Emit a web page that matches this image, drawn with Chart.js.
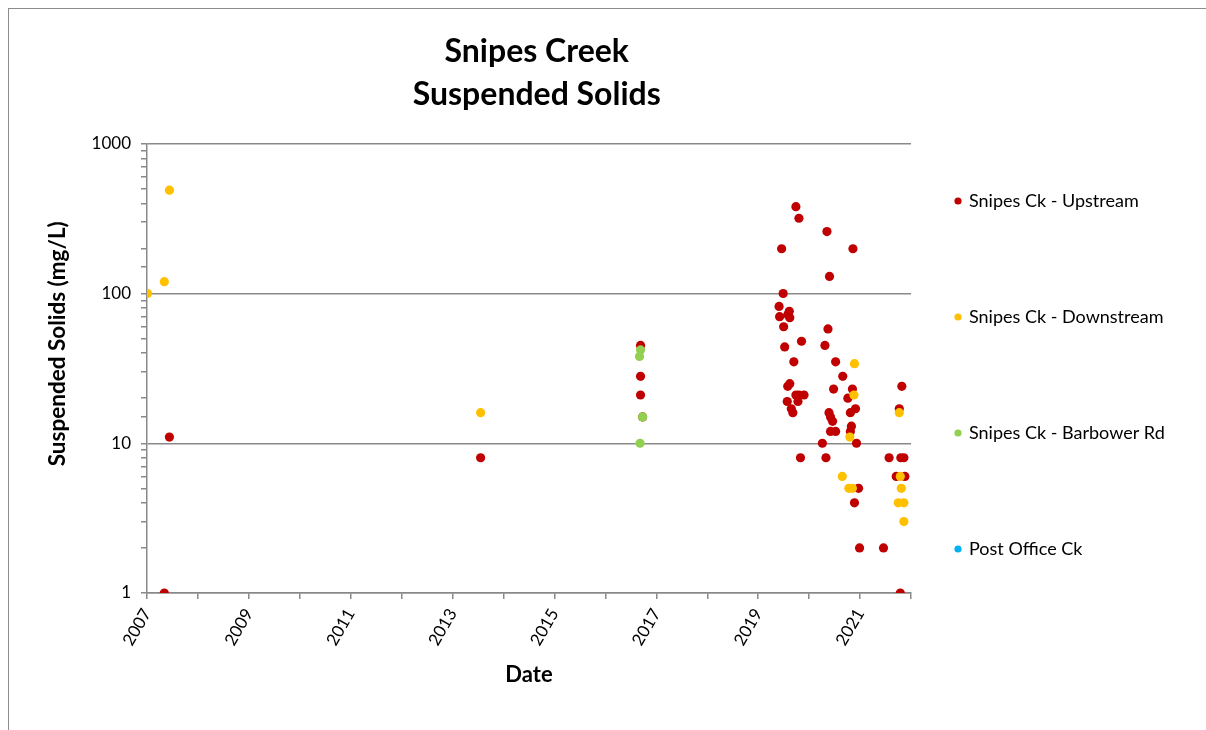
<!DOCTYPE html>
<html>
<head>
<meta charset="utf-8">
<title>Snipes Creek Suspended Solids</title>
<script src="https://cdn.jsdelivr.net/npm/chart.js@4.4.1/dist/chart.umd.min.js"></script>
<style>
  body { margin: 0; background: #fff; }
  #frame { position: absolute; left: 8px; top: 8px; width: 1300px; height: 800px;
           border-left: 1px solid #8c8c8c; border-top: 1px solid #8c8c8c; }
  #chart { position: absolute; left: 0; top: 0; }
</style>
</head>
<body>
<div id="frame"></div>
<canvas id="chart" width="1206" height="730"></canvas>
<script>
// sample dates as decimal years, values in mg/L
const upstreamDates = [
  2007.34, 2007.44, 2013.55, 2016.69, 2016.69, 2016.69, 2016.73,
  2019.41, 2019.42, 2019.46, 2019.49, 2019.50, 2019.52, 2019.57, 2019.58, 2019.58,
  2019.61, 2019.62, 2019.62, 2019.65, 2019.68, 2019.70, 2019.74, 2019.74, 2019.78,
  2019.80, 2019.80, 2019.83, 2019.85, 2019.90,
  2020.26, 2020.31, 2020.33, 2020.35, 2020.37, 2020.39, 2020.40, 2020.42, 2020.42,
  2020.46, 2020.48, 2020.52, 2020.52, 2020.66, 2020.76, 2020.81, 2020.81, 2020.83,
  2020.85, 2020.86, 2020.89, 2020.91, 2020.93, 2020.97, 2020.99,
  2021.46, 2021.57, 2021.71, 2021.77, 2021.79, 2021.80, 2021.82, 2021.86, 2021.88
];
const upstreamValues = [
  1, 11, 8, 45, 28, 21, 15,
  82, 70, 199, 100, 60, 44, 19, 24, 72,
  76, 69, 25, 17, 16, 35, 21, 380, 19,
  318, 21, 8, 48, 21,
  10, 45, 8, 259, 58, 16, 130, 15, 12,
  14, 23, 12, 35, 28, 20, 16, 12, 13,
  23, 199, 4, 17, 10, 5, 2,
  2, 8, 6, 17, 1, 8, 24, 8, 6
];
const downstreamDates = [
  2007.01, 2007.34, 2007.44, 2013.55,
  2020.65, 2020.78, 2020.80, 2020.85, 2020.88, 2020.89,
  2021.75, 2021.77, 2021.79, 2021.81, 2021.86, 2021.86
];
const downstreamValues = [
  100, 120, 490, 16,
  6, 5, 11, 5, 21, 34,
  4, 16, 6, 5, 4, 3
];
const barbowerDates = [2016.69, 2016.67, 2016.73, 2016.68];
const barbowerValues = [42, 38, 15, 10];
const postOfficeDates = [];
const postOfficeValues = [];

const seriesNames = ['Snipes Ck - Upstream', 'Snipes Ck - Downstream', 'Snipes Ck - Barbower Rd', 'Post Office Ck'];
const seriesColors = ['#C00000', '#FFC000', '#92D050', '#00B0F0'];
const yearLabels = ['2007', '2009', '2011', '2013', '2015', '2017', '2019', '2021'];

const toPoints = (xs, ys) => xs.map((x, i) => ({ x: x, y: ys[i] }));
const allDates = [upstreamDates, downstreamDates, barbowerDates, postOfficeDates];
const allValues = [upstreamValues, downstreamValues, barbowerValues, postOfficeValues];

const isDecade = v => Math.abs(Math.log10(v) - Math.round(Math.log10(v))) < 1e-9;
const gray = '#898989';
const font = 'Lato';

// legend on the right, items spread down the side like the original
const sideLegend = {
  id: 'sideLegend',
  afterDraw(chart, args, opts) {
    const ctx = chart.ctx;
    ctx.save();
    ctx.font = opts.size + 'px ' + font;
    ctx.textBaseline = 'middle';
    chart.data.datasets.forEach((ds, i) => {
      const y = opts.top + i * opts.gap;
      ctx.fillStyle = ds.backgroundColor;
      ctx.beginPath();
      ctx.arc(opts.x, y, 3.6, 0, Math.PI * 2);
      ctx.fill();
      ctx.fillStyle = '#000';
      ctx.fillText(ds.label, opts.x + 11, y);
    });
    ctx.restore();
  }
};

new Chart(document.getElementById('chart'), {
  type: 'scatter',
  data: {
    datasets: seriesNames.map((name, i) => ({
      label: name,
      data: toPoints(allDates[i], allValues[i]),
      backgroundColor: seriesColors[i],
      borderWidth: 0,
      pointRadius: 4.6,
      pointHoverRadius: 4.6,
      order: seriesNames.length - i
    }))
  },
  options: {
    responsive: false,
    animation: false,
    layout: { padding: { left: 0, top: 0, right: 295, bottom: 0 } },
    plugins: {
      legend: { display: false },
      tooltip: { enabled: false },
      title: {
        display: true,
        fullSize: false,
        // two leading spaces nudge the title a few px right of the plot centre
        text: ['  Snipes Creek', '  Suspended Solids'],
        color: '#000',
        font: { family: font, size: 32, weight: 'bold', lineHeight: 1.34 },
        padding: { top: 30, bottom: 28 }
      },
      sideLegend: { x: 958, top: 201, gap: 116, size: 18 }
    },
    scales: {
      x: {
        type: 'linear',
        min: 2007,
        max: 2022,
        afterFit: s => { s.height = 137; },
        border: { color: gray, width: 1.5 },
        grid: { drawOnChartArea: false, color: gray, tickColor: gray, tickLength: 6, lineWidth: 1.5 },
        ticks: {
          stepSize: 1,
          autoSkip: false,
          minRotation: 60,
          maxRotation: 60,
          padding: 6,
          color: '#000',
          font: { family: font, size: 17 },
          callback: v => yearLabels.includes(String(v)) ? String(v) : ''
        },
        title: {
          display: true,
          text: 'Date',
          color: '#000',
          font: { family: font, size: 22, weight: 'bold' },
          padding: { top: 0, bottom: 42 }
        }
      },
      y: {
        type: 'logarithmic',
        min: 1,
        max: 1000,
        afterFit: s => { s.width = 147; },
        border: { color: gray, width: 1.5 },
        grid: {
          color: c => isDecade(c.tick.value) ? gray : 'rgba(0,0,0,0)',
          tickColor: gray,
          tickLength: 6,
          lineWidth: 1.5
        },
        ticks: {
          autoSkip: false,
          padding: 10,
          color: '#000',
          font: { family: font, size: 17 },
          callback: v => isDecade(v) ? String(v) : ''
        },
        title: {
          display: true,
          // leading spaces lift the label a little above the plot centre, as in the original
          text: '         Suspended Solids (mg/L)',
          color: '#000',
          font: { family: font, size: 22.5, weight: 'bold' },
          padding: { top: 44, bottom: 0 }
        }
      }
    }
  },
  plugins: [sideLegend]
});
</script>
</body>
</html>
